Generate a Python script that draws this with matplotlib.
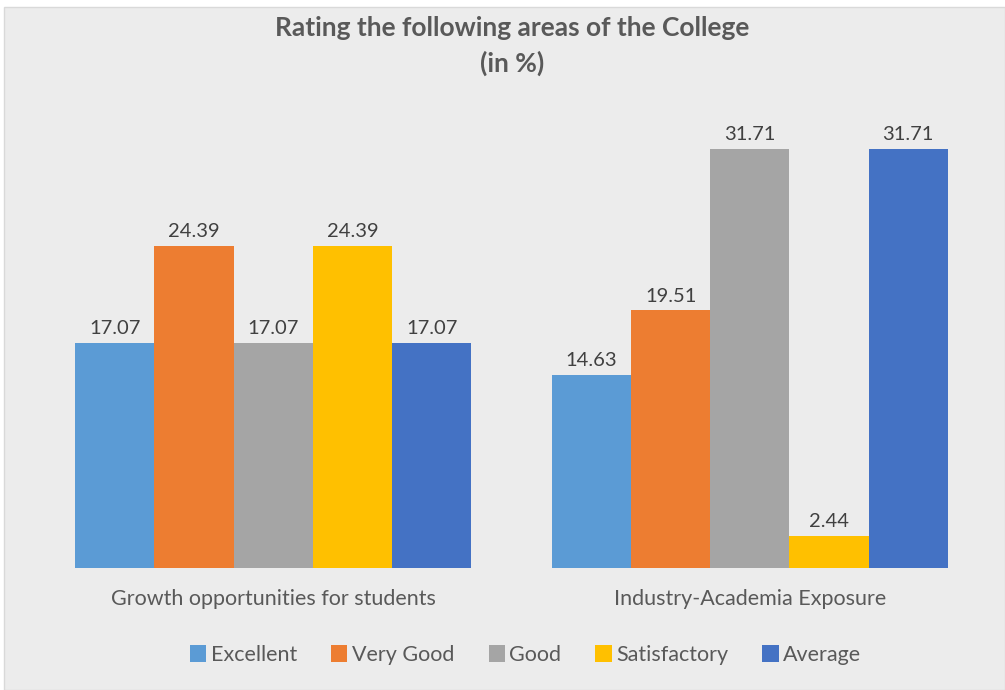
"""Rating the following areas of the College - grouped bar chart."""
import numpy as np
import matplotlib
matplotlib.use('Agg')
import matplotlib.pyplot as plt
from matplotlib.patches import Rectangle

categories = ['Growth opportunities for students', 'Industry-Academia Exposure']
series_names = ['Excellent', 'Very Good', 'Good', 'Satisfactory', 'Average']
excellent = [17.07, 14.63]
very_good = [24.39, 19.51]
good = [17.07, 31.71]
satisfactory = [24.39, 2.44]
average = [17.07, 31.71]

colors = ['#5b9bd5', '#ed7d31', '#a5a5a5', '#ffc000', '#4472c4']
bg = '#ececec'

plt.rcParams['font.family'] = ['Lato', 'DejaVu Sans']

fig = plt.figure(figsize=(10.05, 6.9), dpi=100)
fig.patch.set_facecolor('white')
fig.patches.append(Rectangle((4 / 1005, 0), 1 - 4 / 1005, 1 - 7 / 690,
                             transform=fig.transFigure, facecolor=bg,
                             edgecolor='#d9d9d9', linewidth=1, zorder=-10))

ax = fig.add_axes([35 / 1005, 1 - 568 / 690, (988 - 35) / 1005, (568 - 106) / 690])
ax.set_facecolor('none')

x = np.arange(len(categories))
group_w = 0.831
bar_w = group_w / len(series_names)
all_series = [excellent, very_good, good, satisfactory, average]
for i, (name, vals) in enumerate(zip(series_names, all_series)):
    pos = x - group_w / 2 + bar_w * (i + 0.5)
    bars = ax.bar(pos, vals, width=bar_w, color=colors[i], label=name, zorder=2)
    for b, v in zip(bars, vals):
        ax.text(b.get_x() + b.get_width() / 2, v + 0.45, f'{v:.2f}',
                ha='center', va='bottom', fontsize=14.5, color='#404040')

ax.set_xlim(-0.5, 1.5)
ax.set_ylim(0, 35)
ax.set_yticks([])
ax.set_xticks(x)
ax.set_xticklabels(categories, fontsize=15.5, color='#595959')
ax.tick_params(axis='x', length=0, pad=15)
for side in ['top', 'right', 'left', 'bottom']:
    ax.spines[side].set_visible(False)

fig.text(0.51, 1 - 28 / 690, 'Rating the following areas of the College',
         ha='center', va='center', fontsize=19, fontweight='bold', color='#595959')
fig.text(0.51, 1 - 63 / 690, '(in %)', ha='center', va='center',
         fontsize=19, fontweight='bold', color='#595959')

fig.legend(loc='center', bbox_to_anchor=(0.523, 1 - 655 / 690), ncol=5,
           frameon=False, fontsize=15.5, labelcolor='#595959',
           handlelength=0.75, handleheight=0.8, handletextpad=0.2,
           columnspacing=1.6)

fig.savefig('out.png', dpi=100, facecolor=fig.get_facecolor())
